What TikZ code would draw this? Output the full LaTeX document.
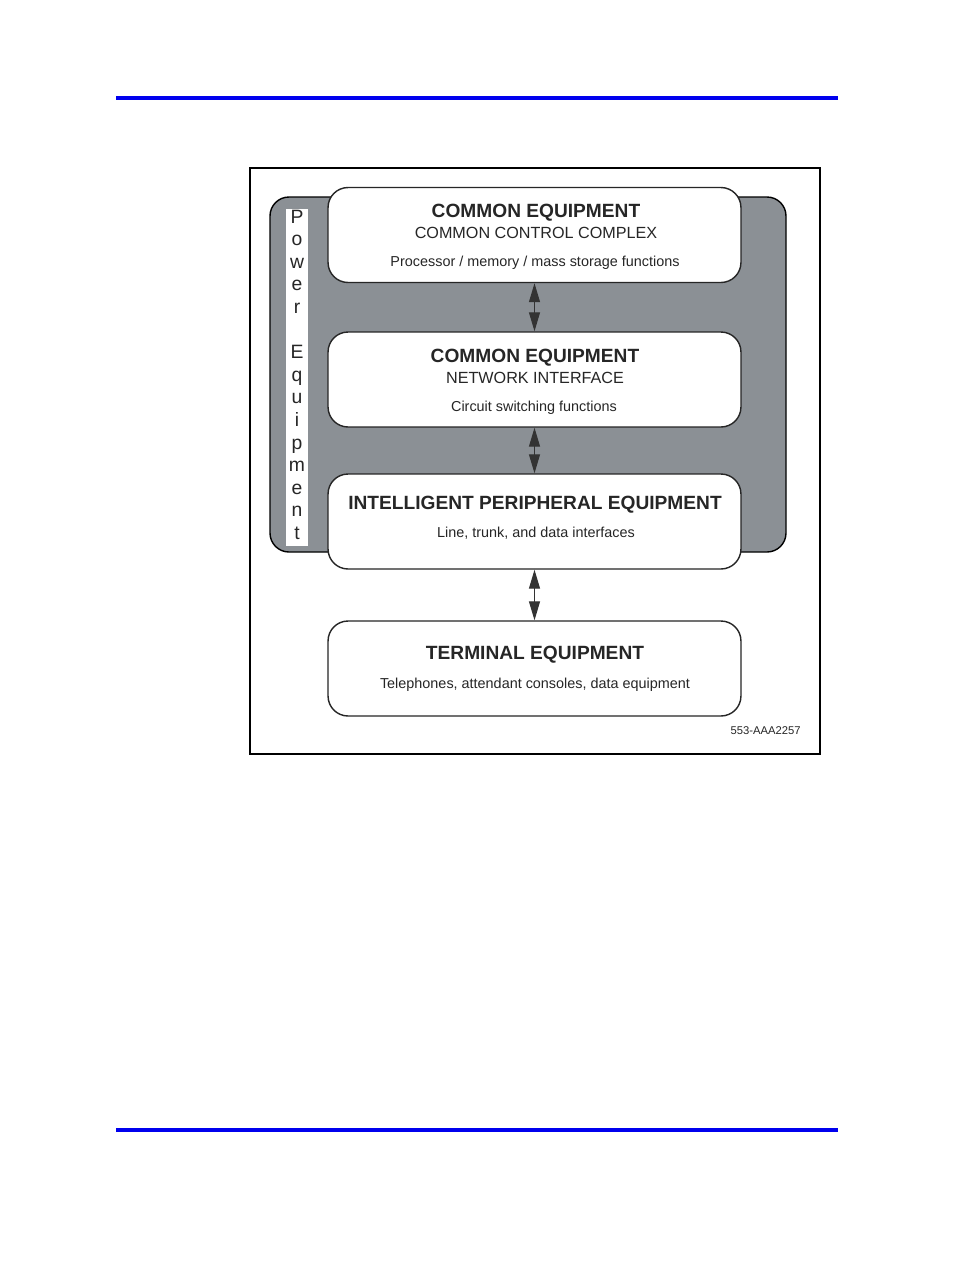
\documentclass[tikz,border=0pt]{standalone}
\usepackage{fontspec}
\setmainfont{Liberation Sans}
\usepackage{xcolor}
\usetikzlibrary{arrows.meta}
\definecolor{shelfgrey}{RGB}{139,144,149}
\definecolor{ruleblue}{RGB}{0,0,238}

\begin{document}
\begin{tikzpicture}[x=0.02cm,y=-0.02cm,
    unit/.style={draw=black!85,line width=0.8pt,fill=white,rounded corners=0.4cm,
      minimum width=8.26cm,minimum height=1.9cm,inner sep=0pt},
    title/.style={anchor=base,inner sep=0pt,text=black!85,font=\fontsize{10.9}{12}\selectfont\bfseries},
    sub/.style={anchor=base,inner sep=0pt,text=black!85,font=\fontsize{9.2}{11}\selectfont},
    desc/.style={anchor=base,inner sep=0pt,text=black!85,font=\fontsize{8.2}{10}\selectfont},
    link/.style={{Triangle[length=3.8mm,width=2.2mm]}-{Triangle[length=3.8mm,width=2.2mm]},
      line width=0.7pt,draw=black!80,fill=black!80}]
    \useasboundingbox (0,0) rectangle (954,1272);
    \fill[white] (0,0) rectangle (954,1272);
    % page rules
    \coordinate (ta) at (116,98);
    \coordinate (tb) at (838,98);
    \coordinate (ba) at (116,1130);
    \coordinate (bb) at (838,1130);
    \draw[ruleblue,line width=2.3pt] (ta) -- (tb);
    \draw[ruleblue,line width=2.3pt] (ba) -- (bb);
    % frame
    \draw[line width=1pt] (250,168) rectangle (820,754);
    % power cabinet
    \draw[fill=shelfgrey,line width=0.8pt,rounded corners=0.38cm] (270,197) rectangle (786,552);
    \fill[white] (286,209) rectangle (308,546);
    \foreach \ch/\k in {P/0,o/1,w/2,e/3,r/4,E/6,q/7,u/8,i/9,p/10,m/11,e/12,n/13,t/14}
        \node[anchor=base,inner sep=0pt,text=black!85,font=\fontsize{11}{12}\selectfont] (pw\k) at (297,{223+22.6*\k}) {\ch};
    % boxes
    \node[unit] (cc) at (534.5,235) {};
    \node[unit] (ni) at (534.5,379.5) {};
    \node[unit] (ipe) at (534.5,521.5) {};
    \node[unit] (te) at (534.5,668.5) {};
    \node[title] (cct) at (536,217) {COMMON EQUIPMENT};
    \node[sub] (ccs) at (536,238) {COMMON CONTROL COMPLEX};
    \node[desc] (ccd) at (535,266) {Processor / memory / mass storage functions};
    \node[title] (nit) at (535,362) {COMMON EQUIPMENT};
    \node[sub] (nis) at (535,383) {NETWORK INTERFACE};
    \node[desc] (nid) at (534,411) {Circuit switching functions};
    \node[title] (ipet) at (535,509) {INTELLIGENT PERIPHERAL EQUIPMENT};
    \node[desc] (iped) at (536,537) {Line, trunk, and data interfaces};
    \node[title] (tet) at (535,659) {TERMINAL EQUIPMENT};
    \node[desc] (ted) at (535,688) {Telephones, attendant consoles, data equipment};
    \node[anchor=base east,inner sep=0pt,text=black!85,font=\fontsize{6.4}{8}\selectfont] (fig) at (801,734) {553-AAA2257};
    % links
    \draw[link] (cc.south) -- (ni.north);
    \draw[link] (ni.south) -- (ipe.north);
    \draw[link] (ipe.south) -- (te.north);
\end{tikzpicture}
\end{document}
